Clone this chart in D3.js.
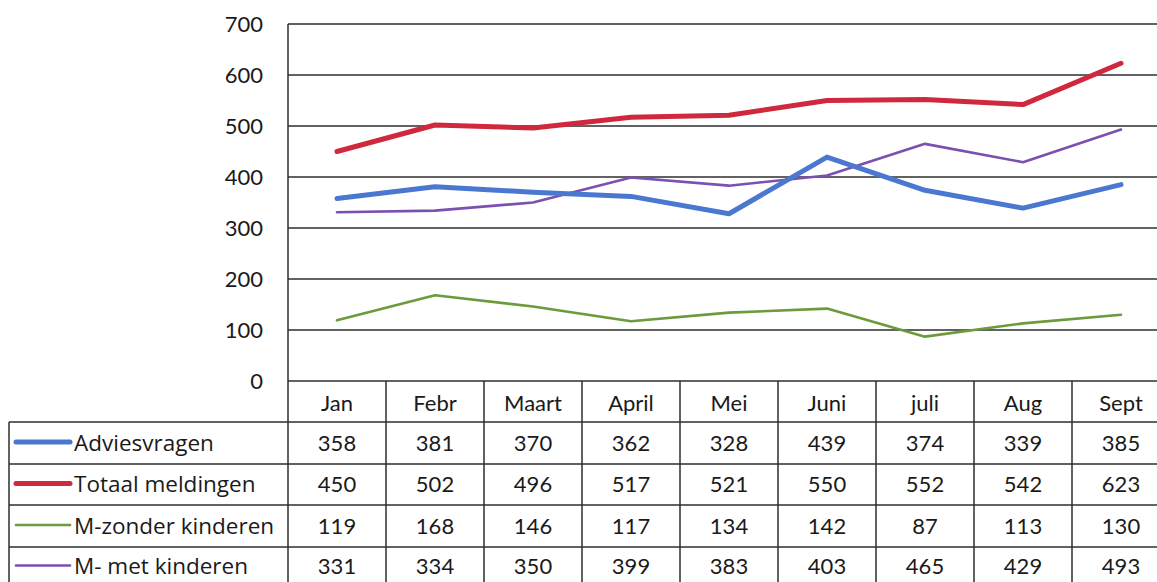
<!DOCTYPE html>
<html>
<head>
<meta charset="utf-8">
<script src="https://cdn.jsdelivr.net/npm/d3@7"></script>
<style>
  html, body { margin: 0; padding: 0; background: #fff; }
  svg { display: block; }
  text { font-family: Lato, "Open Sans", sans-serif; fill: #1a1a1a; }
</style>
</head>
<body>
<svg id="chart" width="1157" height="582"></svg>
<script>
const months = ["Jan", "Febr", "Maart", "April", "Mei", "Juni", "juli", "Aug", "Sept"];
const seriesNames = ["Adviesvragen", "Totaal meldingen", "M-zonder kinderen", "M- met kinderen"];
const adviesvragen = [358, 381, 370, 362, 328, 439, 374, 339, 385];
const totaalMeldingen = [450, 502, 496, 517, 521, 550, 552, 542, 623];
const mZonderKinderen = [119, 168, 146, 117, 134, 142, 87, 113, 130];
const mMetKinderen = [331, 334, 350, 399, 383, 403, 465, 429, 493];
const yTicks = [0, 100, 200, 300, 400, 500, 600, 700];

const seriesValues = [adviesvragen, totaalMeldingen, mZonderKinderen, mMetKinderen];
const colors = ["#4a78d0", "#d0283c", "#6c9a3c", "#7a50b0"];
const widths = [5, 5, 2.6, 2.6];

const svg = d3.select("#chart");
const plotLeft = 288, colW = 98, plotTop = 24, plotBottom = 381;
const tableLeft = 9;
const rowEdges = [381, 422, 464, 505, 547, 590];

const x = d3.scaleBand().domain(months).range([plotLeft, plotLeft + colW * months.length]).padding(0);
const y = d3.scaleLinear().domain([0, 700]).range([plotBottom, plotTop]);

const lineColor = "#2e2e2e";

// gridlines
svg.append("g").selectAll("line").data(yTicks.filter(d => d > 0)).join("line")
  .attr("x1", plotLeft).attr("x2", plotLeft + colW * months.length)
  .attr("y1", d => y(d)).attr("y2", d => y(d))
  .attr("stroke", lineColor).attr("stroke-width", 1.5);

// y axis labels
const yAxis = d3.axisLeft(y).tickValues(yTicks).tickSize(0).tickPadding(25);
const ya = svg.append("g").attr("transform", `translate(${plotLeft},0)`).call(yAxis);
ya.select(".domain").remove();
ya.selectAll("text").attr("font-size", 22).style("font-family", "Lato, sans-serif").attr("fill", "#1a1a1a");

// vertical axis line
svg.append("line").attr("x1", plotLeft).attr("x2", plotLeft).attr("y1", plotTop).attr("y2", 582)
  .attr("stroke", lineColor).attr("stroke-width", 1.5);

// table horizontal lines
rowEdges.forEach((ry, i) => {
  svg.append("line")
    .attr("x1", i === 0 ? plotLeft : tableLeft).attr("x2", plotLeft + colW * months.length)
    .attr("y1", ry).attr("y2", ry)
    .attr("stroke", lineColor).attr("stroke-width", 1.5);
});
// table vertical lines
svg.append("g").selectAll("line").data(months).join("line")
  .attr("x1", d => x(d) + x.bandwidth()).attr("x2", d => x(d) + x.bandwidth())
  .attr("y1", 381).attr("y2", 582)
  .attr("stroke", lineColor).attr("stroke-width", 1.5);
svg.append("line").attr("x1", tableLeft).attr("x2", tableLeft).attr("y1", 422).attr("y2", 582)
  .attr("stroke", lineColor).attr("stroke-width", 1.5);

// header
svg.append("g").selectAll("text").data(months).join("text")
  .attr("x", d => x(d) + x.bandwidth() / 2)
  .attr("y", (rowEdges[0] + rowEdges[1]) / 2 + 1)
  .attr("text-anchor", "middle").attr("dominant-baseline", "central")
  .attr("font-size", 22).text(d => d);

// rows
seriesValues.forEach((vals, si) => {
  const cy = (rowEdges[si + 1] + rowEdges[si + 2]) / 2 - 1 + (si === 3 ? -2 : 0);
  svg.append("line").attr("x1", 16).attr("x2", 70).attr("y1", cy).attr("y2", cy)
    .attr("stroke", colors[si]).attr("stroke-width", widths[si]).attr("stroke-linecap", "round");
  svg.append("text").attr("x", 74).attr("y", cy).attr("dominant-baseline", "central")
    .style("font-family", "'Open Sans', Lato, sans-serif")
    .attr("font-size", 22.5).text(seriesNames[si]);
  svg.append("g").selectAll("text").data(vals).join("text")
    .attr("x", (d, i) => x(months[i]) + x.bandwidth() / 2)
    .attr("y", cy)
    .attr("text-anchor", "middle").attr("dominant-baseline", "central")
    .attr("font-size", 22).text(d => d);
});

// lines
const line = d3.line().x((d, i) => x(months[i]) + x.bandwidth() / 2).y(d => y(d));
const order = [2, 3, 0, 1];
order.forEach(si => {
  svg.append("path").datum(seriesValues[si]).attr("d", line)
    .attr("fill", "none").attr("stroke", colors[si]).attr("stroke-width", widths[si])
    .attr("stroke-linejoin", "round").attr("stroke-linecap", "round");
});
</script>
</body>
</html>
